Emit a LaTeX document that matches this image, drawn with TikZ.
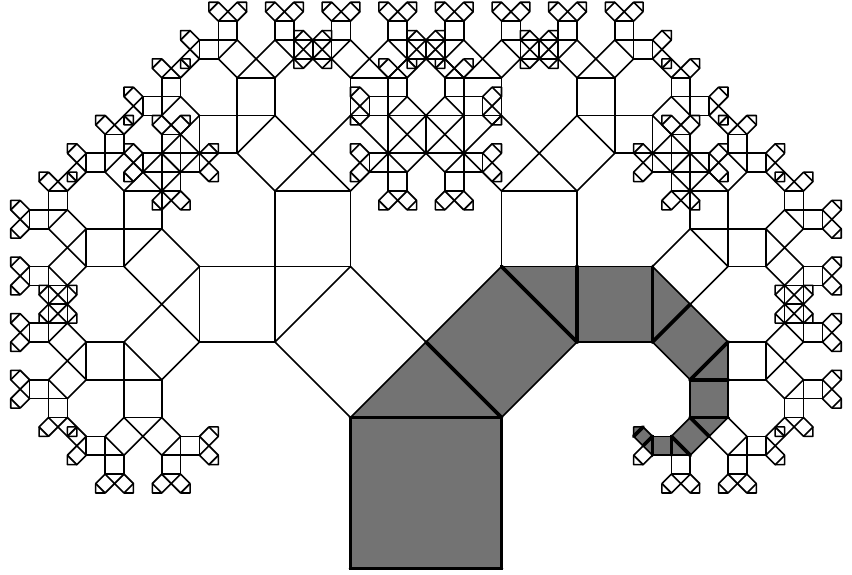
\documentclass[tikz,border=0pt]{standalone}
\tikzset{
  treeline/.style={line width=1.6pt,line join=round},
  pathfill/.style={fill=black!55},
  cutline/.style={line width=3.6pt,line cap=round}
}
\newcommand\pyall[1]{%
  \draw[treeline] (0,0) rectangle (1,1);
  \ifnum#1>0
    \begin{scope}[shift={(0,1)},rotate=45,scale=0.70710678]\pyall{\the\numexpr#1-1\relax}\end{scope}
    \begin{scope}[shift={(0.5,1.5)},rotate=-45,scale=0.70710678]\pyall{\the\numexpr#1-1\relax}\end{scope}
  \else
    \draw[treeline] (0,1) -- (0.5,1.5) -- (1,1);
  \fi}
\newcommand\pyfill[1]{%
  \fill[pathfill] (0,0) rectangle (1,1);
  \fill[pathfill] (0,1) -- (0.5,1.5) -- (1,1) -- cycle;
  \ifnum#1>0
    \begin{scope}[shift={(0.5,1.5)},rotate=-45,scale=0.70710678]\pyfill{\the\numexpr#1-1\relax}\end{scope}
  \fi}
\newcommand\pycut[1]{%
  \draw[cutline] (0,0) -- (1,0);
  \draw[cutline] (0,1) -- (1,1);
  \ifnum#1>0
    \begin{scope}[shift={(0.5,1.5)},rotate=-45,scale=0.70710678]\pycut{\the\numexpr#1-1\relax}\end{scope}
  \fi}
\begin{document}
\begin{tikzpicture}[x=1pt,y=1pt]
  \useasboundingbox (0,0) rectangle (852,574);
  \begin{scope}[shift={(350.5,5.5)},scale=151]
    \pyfill{7}
    \pyall{7}
    \pycut{7}
    \draw[line width=2.6pt] (0,0) rectangle (1,1);
  \end{scope}
\end{tikzpicture}
\end{document}
